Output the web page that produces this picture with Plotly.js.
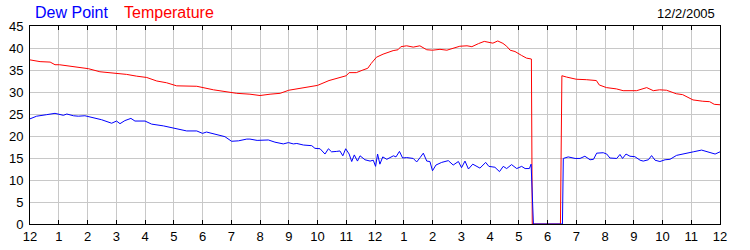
<!DOCTYPE html>
<html>
<head>
<meta charset="utf-8">
<script src="https://cdn.plot.ly/plotly-3.0.1.min.js"></script>
<style>html,body{margin:0;padding:0;background:#fff;}#chart{width:750px;height:250px;}</style>
</head>
<body>
<div id="chart"></div>
<script>
// Hour ticks (0 = 12 noon of 12/2/2005 display start, 24 = next 12)
var hourTicks = [0,1,2,3,4,5,6,7,8,9,10,11,12,13,14,15,16,17,18,19,20,21,22,23,24];
var hourLabels = ["12","1","2","3","4","5","6","7","8","9","10","11","12","1","2","3","4","5","6","7","8","9","10","11","12"];

var tempHours = [0,0.35,0.7,0.87,1.02,1.39,1.74,2.03,2.43,2.9,3.36,3.71,4.06,4.41,4.75,5.1,5.8,6.38,6.84,7.19,7.65,8.0,8.35,8.7,9.0,9.37,9.72,10.0,10.4,10.77,11.0,11.1,11.35,11.58,11.75,11.87,12.05,12.28,12.63,12.8,12.9,13.1,13.33,13.56,13.8,14.0,14.26,14.5,14.75,14.95,15.2,15.37,15.6,15.8,16.1,16.27,16.45,16.58,16.7,16.87,17.1,17.27,17.44,17.47,18.45,18.5,18.66,19.0,19.35,19.7,19.8,20.05,20.4,20.63,21.1,21.45,21.68,21.9,22.14,22.48,22.7,23.06,23.4,23.64,23.8,24.0];
var temperature = [37.3,36.9,36.8,36.2,36.2,35.9,35.6,35.3,34.6,34.3,34.0,33.6,33.3,32.5,32.1,31.4,31.3,30.5,30.1,29.7,29.5,29.2,29.5,29.7,30.4,30.8,31.2,31.5,32.6,33.2,33.7,34.4,34.4,35.0,35.4,36.5,37.9,38.6,39.4,39.6,40.3,40.5,40.2,40.5,39.6,39.5,39.7,39.5,40.0,40.4,40.5,40.3,41.0,41.5,41.1,41.6,41.05,40.4,39.5,39.2,38.3,37.7,37.5,0,0,33.7,33.4,32.9,32.8,32.6,31.6,31.0,30.7,30.3,30.3,31.0,30.3,30.5,30.4,29.6,29.4,28.2,27.9,27.8,27.2,27.1];

var dewHours = [0,0.23,0.58,0.87,1.16,1.28,1.51,1.68,1.91,2.2,2.49,2.84,3.01,3.13,3.3,3.51,3.65,4.0,4.23,4.64,5.1,5.45,5.8,6.0,6.14,6.49,6.78,7.01,7.25,7.54,7.65,7.9,8.29,8.52,8.81,8.99,9.16,9.28,9.51,9.8,9.91,10.09,10.26,10.38,10.49,10.67,10.78,10.88,10.98,11.1,11.19,11.28,11.39,11.48,11.65,11.83,11.94,12.02,12.09,12.17,12.27,12.41,12.52,12.64,12.73,12.85,12.96,13.1,13.33,13.45,13.57,13.68,13.8,13.91,14.0,14.12,14.32,14.55,14.72,14.9,15.01,15.13,15.25,15.4,15.65,15.85,15.96,16.17,16.33,16.46,16.58,16.75,16.93,17.1,17.22,17.37,17.43,17.51,18.52,18.55,18.72,18.96,19.13,19.3,19.48,19.6,19.71,19.94,20.06,20.17,20.41,20.52,20.61,20.73,20.87,21.04,21.22,21.33,21.51,21.62,21.74,21.91,22.09,22.26,22.49,22.67,22.84,23.07,23.36,23.65,23.83,24.0];
var dewPoint = [23.9,24.5,24.85,25.15,24.7,25.0,24.6,24.5,24.6,24.2,23.7,22.9,23.4,22.8,23.5,24.0,23.4,23.4,22.7,22.3,21.7,21.15,21.15,20.6,20.9,20.3,19.85,18.8,18.9,19.3,19.3,19.0,19.1,18.6,18.2,18.5,18.2,18.3,17.95,17.8,17.2,17.1,15.9,17.1,16.4,16.5,16.6,15.5,17.1,15.9,14.2,15.7,14.3,15.5,14.6,14.3,14.5,13.1,15.9,13.6,15.25,14.7,15.0,15.5,15.25,16.5,15.0,15.1,14.9,14.1,15.1,16.1,14.3,14.2,12.1,13.4,14.0,14.4,13.4,14.2,12.8,14.3,12.5,13.6,12.7,14.0,13.1,12.9,11.9,13.1,12.6,13.5,12.6,13.1,12.6,12.6,13.6,0,0,14.9,15.25,14.9,14.9,15.4,14.6,14.7,16.1,16.2,15.9,15.0,14.9,15.8,14.9,15.9,15.4,15.3,14.5,14.3,14.6,15.55,14.5,14.2,14.6,14.7,15.6,15.9,16.1,16.4,16.8,16.2,15.9,16.4];

var seriesNames = ["Dew Point", "Temperature"];
var dateLabel = "12/2/2005";

var FONT = 'Liberation Sans, Arial, sans-serif';

var traces = [
  {x: tempHours, y: temperature, type: 'scatter', mode: 'lines', name: seriesNames[1],
   line: {color: '#ff0000', width: 1}, hoverinfo: 'skip'},
  {x: dewHours, y: dewPoint, type: 'scatter', mode: 'lines', name: seriesNames[0],
   line: {color: '#0000ff', width: 1}, hoverinfo: 'skip'}
];

var layout = {
  width: 750, height: 250,
  margin: {l: 30, r: 30, t: 26, b: 26, pad: 0},
  paper_bgcolor: '#ffffff', plot_bgcolor: '#ffffff',
  showlegend: false,
  font: {family: FONT, size: 13, color: '#000'},
  xaxis: {
    range: [0, 24], tickmode: 'array', tickvals: hourTicks, ticktext: hourLabels,
    showgrid: true, gridcolor: '#c8c8c8', gridwidth: 1,
    ticks: 'inside', ticklen: 4, tickcolor: '#000', tickwidth: 1,
    showline: true, linecolor: '#000', linewidth: 1, mirror: 'ticks',
    zeroline: false, tickfont: {family: FONT, size: 13, color: '#000'}
  },
  yaxis: {
    range: [0, 45], tick0: 0, dtick: 5,
    showgrid: true, gridcolor: '#c8c8c8', gridwidth: 1,
    showline: true, linecolor: '#000', linewidth: 1, mirror: true,
    ticks: '', zeroline: false, ticklabelstandoff: 3,
    tickfont: {family: FONT, size: 13, color: '#000'}
  },
  yaxis2: {
    range: [0, 45], tick0: 0, dtick: 5, overlaying: 'y', side: 'right',
    showgrid: false, showline: false, ticks: '', zeroline: false, ticklabelstandoff: 2,
    tickfont: {family: FONT, size: 13, color: '#000'}
  },
  annotations: [
    {text: seriesNames[0], xref: 'paper', yref: 'paper', x: 0.004, y: 1.07, xanchor: 'left', yanchor: 'middle',
     showarrow: false, font: {family: FONT, size: 16, color: '#0000ff'}},
    {text: seriesNames[1], xref: 'paper', yref: 'paper', x: 0.133, y: 1.07, xanchor: 'left', yanchor: 'middle',
     showarrow: false, font: {family: FONT, size: 16, color: '#ff0000'}},
    {text: dateLabel, xref: 'paper', yref: 'paper', x: 0.996, y: 1.065, xanchor: 'right', yanchor: 'middle',
     showarrow: false, font: {family: FONT, size: 13, color: '#000'}}
  ]
};

Plotly.newPlot('chart', traces, layout, {staticPlot: true, displayModeBar: false});
</script>
</body>
</html>
